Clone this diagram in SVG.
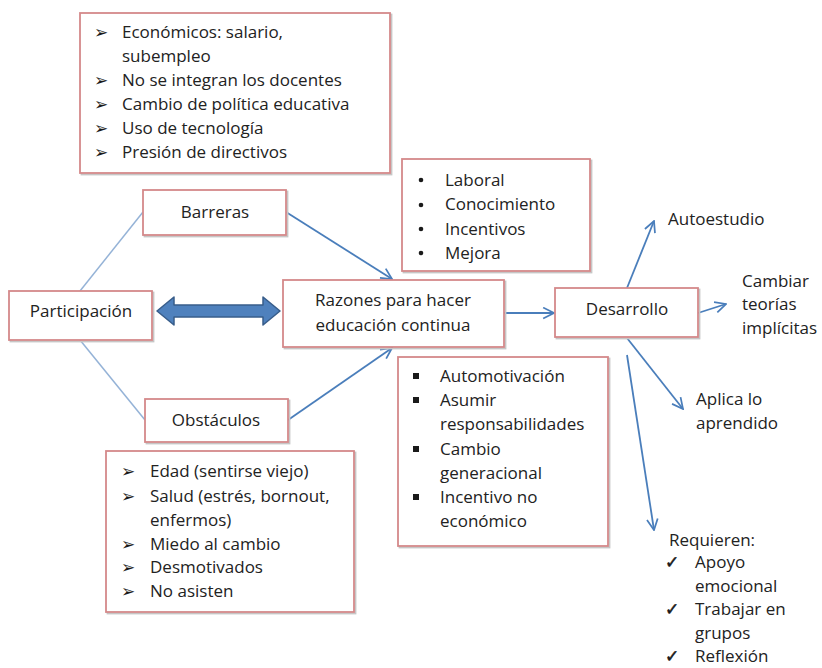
<svg xmlns="http://www.w3.org/2000/svg" width="822" height="668" viewBox="0 0 822 668">
  <defs>
    <style>
      .box { fill: #ffffff; stroke: #d4898a; stroke-width: 1.8; }
      .shadow { fill: none; stroke: #c6c6c6; stroke-width: 1.8; }
      .t { font-family: "Open Sans", "Liberation Sans", sans-serif; font-size: 17px; fill: #222222; }
      .c { text-anchor: middle; }
      .sym { font-family: "DejaVu Sans", sans-serif; fill: #1a1a1a; }
      .tick { stroke: #1a1a1a; stroke-width: 0.6; }
      .link { stroke: #95b3d7; stroke-width: 1.5; fill: none; }
      .arrow { stroke: #4a7ebb; stroke-width: 1.8; fill: none; marker-end: url(#open); }
    </style>
    <marker id="open" viewBox="0 0 12 12" refX="11" refY="6" markerWidth="13" markerHeight="13" markerUnits="userSpaceOnUse" orient="auto">
      <path d="M1,1 L11,6 L1,11" fill="none" stroke="#4a7ebb" stroke-width="1.6"/>
    </marker>
  </defs>

  <!-- connectors -->
  <g id="connectors">
    <line class="link" x1="80" y1="291" x2="143" y2="212"/>
    <line class="link" x1="80" y1="340" x2="145" y2="420"/>
    <line class="arrow" x1="286" y1="212" x2="392" y2="279"/>
    <line class="arrow" x1="288" y1="420" x2="392" y2="348"/>
    <line class="arrow" x1="504" y1="313" x2="554" y2="313"/>
    <line class="arrow" x1="627" y1="288" x2="654" y2="221"/>
    <line class="arrow" x1="698" y1="313" x2="726" y2="304"/>
    <line class="arrow" x1="627" y1="338" x2="683" y2="409"/>
    <line class="arrow" x1="627" y1="355" x2="654" y2="530"/>
    <!-- two-way block arrow -->
    <path d="M157,311 L174,297 L174,305 L263,305 L263,297 L280,311 L263,325 L263,317 L174,317 L174,325 Z" fill="#4f81bd" stroke="#385d8a" stroke-width="1.5" stroke-linejoin="round"/>
  </g>

  <!-- economic barriers list -->
  <g id="barreras-lista">
    <rect class="shadow" x="81.5" y="14.5" width="310" height="160"/>
    <rect class="box" x="80" y="13" width="310" height="160"/>
    <g class="sym" font-size="17">
      <text x="94" y="38">➢</text>
      <text x="94" y="86">➢</text>
      <text x="94" y="110">➢</text>
      <text x="94" y="134">➢</text>
      <text x="94" y="158">➢</text>
    </g>
    <text class="t" x="122" y="38">Económicos: salario,</text>
    <text class="t" x="122" y="62">subempleo</text>
    <text class="t" x="122" y="86">No se integran los docentes</text>
    <text class="t" x="122" y="110">Cambio de política educativa</text>
    <text class="t" x="122" y="134">Uso de tecnología</text>
    <text class="t" x="122" y="158">Presión de directivos</text>
  </g>

  <g id="barreras">
    <rect class="shadow" x="144.5" y="191.5" width="143" height="45"/>
    <rect class="box" x="143" y="190" width="143" height="45"/>
    <text class="t c" x="215" y="218">Barreras</text>
  </g>

  <g id="participacion">
    <rect class="shadow" x="10.5" y="292.5" width="143" height="49"/>
    <rect class="box" x="9" y="291" width="143" height="49"/>
    <text class="t c" x="81" y="317">Participación</text>
  </g>

  <g id="razones">
    <rect class="shadow" x="284.5" y="281.5" width="221" height="67"/>
    <rect class="box" x="283" y="280" width="221" height="67"/>
    <text class="t c" x="393" y="306">Razones para hacer</text>
    <text class="t c" x="393" y="331">educación continua</text>
  </g>

  <g id="obstaculos">
    <rect class="shadow" x="146.5" y="400.5" width="143" height="43"/>
    <rect class="box" x="145" y="399" width="143" height="43"/>
    <text class="t c" x="216" y="426">Obstáculos</text>
  </g>

  <g id="razones-lista">
    <rect class="shadow" x="403.5" y="160.5" width="188" height="112"/>
    <rect class="box" x="402" y="159" width="188" height="112"/>
    <g fill="#1a1a1a">
      <circle cx="421" cy="180" r="2.3"/>
      <circle cx="421" cy="205" r="2.3"/>
      <circle cx="421" cy="229" r="2.3"/>
      <circle cx="421" cy="253" r="2.3"/>
    </g>
    <text class="t" x="445" y="186">Laboral</text>
    <text class="t" x="445" y="210">Conocimiento</text>
    <text class="t" x="445" y="235">Incentivos</text>
    <text class="t" x="445" y="259">Mejora</text>
  </g>

  <g id="motivacion-lista">
    <rect class="shadow" x="399.5" y="358.5" width="210" height="189"/>
    <rect class="box" x="398" y="357" width="210" height="189"/>
    <g fill="#1a1a1a">
      <rect x="413" y="373" width="6" height="6"/>
      <rect x="413" y="397" width="6" height="6"/>
      <rect x="413" y="446" width="6" height="6"/>
      <rect x="413" y="494" width="6" height="6"/>
    </g>
    <text class="t" x="440" y="382">Automotivación</text>
    <text class="t" x="440" y="406">Asumir</text>
    <text class="t" x="440" y="430">responsabilidades</text>
    <text class="t" x="440" y="455">Cambio</text>
    <text class="t" x="440" y="479">generacional</text>
    <text class="t" x="440" y="503">Incentivo no</text>
    <text class="t" x="440" y="527">económico</text>
  </g>

  <g id="obstaculos-lista">
    <rect class="shadow" x="107.5" y="452.5" width="248" height="161"/>
    <rect class="box" x="106" y="451" width="248" height="161"/>
    <g class="sym" font-size="17">
      <text x="121" y="477">➢</text>
      <text x="121" y="502">➢</text>
      <text x="121" y="550">➢</text>
      <text x="121" y="573">➢</text>
      <text x="121" y="597">➢</text>
    </g>
    <text class="t" x="150" y="477">Edad (sentirse viejo)</text>
    <text class="t" x="150" y="502">Salud (estrés, bornout,</text>
    <text class="t" x="150" y="526">enfermos)</text>
    <text class="t" x="150" y="550">Miedo al cambio</text>
    <text class="t" x="150" y="573">Desmotivados</text>
    <text class="t" x="150" y="597">No asisten</text>
  </g>

  <g id="desarrollo">
    <rect class="shadow" x="556.5" y="289.5" width="143" height="49"/>
    <rect class="box" x="555" y="288" width="143" height="49"/>
    <text class="t c" x="627" y="315">Desarrollo</text>
  </g>

  <g id="autoestudio">
    <text class="t" x="668" y="225">Autoestudio</text>
  </g>

  <g id="cambiar-teorias">
    <text class="t" x="742" y="287">Cambiar</text>
    <text class="t" x="742" y="310">teorías</text>
    <text class="t" x="742" y="334">implícitas</text>
  </g>

  <g id="aplica">
    <text class="t" x="696" y="405">Aplica lo</text>
    <text class="t" x="696" y="429">aprendido</text>
  </g>

  <g id="requieren">
    <text class="t" x="669" y="546">Requieren:</text>
    <g class="sym tick" font-size="17">
      <text x="665" y="568">✓</text>
      <text x="665" y="615">✓</text>
      <text x="665" y="662">✓</text>
    </g>
    <text class="t" x="695" y="568">Apoyo</text>
    <text class="t" x="695" y="592">emocional</text>
    <text class="t" x="695" y="615">Trabajar en</text>
    <text class="t" x="695" y="639">grupos</text>
    <text class="t" x="695" y="662">Reflexión</text>
  </g>
</svg>
